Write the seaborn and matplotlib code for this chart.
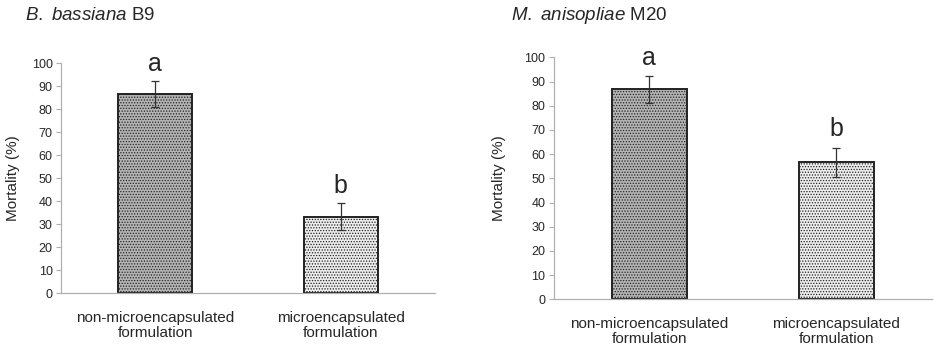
import pandas as pd
import numpy as np
import matplotlib
matplotlib.use('Agg')
import matplotlib.pyplot as plt
import seaborn as sns

# values
categories = ['non-microencapsulated\nformulation', 'microencapsulated\nformulation']
b9_mortality = [86.7, 33.3]
b9_err = [5.7, 5.8]
m20_mortality = [86.7, 56.7]
m20_err = [5.6, 6.0]
letters = ['a', 'b']
titles = [r'$\it{B.}$ $\it{bassiana}$ B9', r'$\it{M.}$ $\it{anisopliae}$ M20']

sns.set_style('white')
plt.rcParams['font.family'] = ['Liberation Sans', 'DejaVu Sans']
plt.rcParams['mathtext.fontset'] = 'custom'
plt.rcParams['mathtext.rm'] = 'Liberation Sans'
plt.rcParams['mathtext.it'] = 'Liberation Sans:italic'
plt.rcParams['hatch.linewidth'] = 0.6

fig = plt.figure(figsize=(9.34, 3.49), dpi=100)
ax1 = fig.add_axes([0.0653, 0.1596, 0.4004, 0.659])
ax2 = fig.add_axes([0.593, 0.1424, 0.4047, 0.6934])

fills = ['#b4b4b4', '#ececec']
hatches = ['......', '......']
spine_col = '#b0b0b0'

panels = [(ax1, b9_mortality, b9_err, titles[0], 0.027, 20),
          (ax2, m20_mortality, m20_err, titles[1], 0.547, 506)]

for ax, vals, errs, title, tx, ylab_x in panels:
    df = pd.DataFrame({'group': categories, 'mortality': vals})
    sns.barplot(data=df, x='group', y='mortality', ax=ax, width=0.4,
                errorbar=None, color='white')
    for patch, fc, h in zip(ax.patches, fills, hatches):
        patch.set_facecolor(fc)
        patch.set_edgecolor('#222222')
        patch.set_linewidth(1.4)
        patch.set_hatch(h)
    ax.errorbar(range(len(vals)), vals, yerr=errs, fmt='none',
                ecolor='#333333', elinewidth=0.9, capsize=3, capthick=0.9)
    for i, (v, e) in enumerate(zip(vals, errs)):
        ax.text(i, v + e + 7.5, letters[i], ha='center', va='center', fontsize=18)
    ax.set_ylim(0, 100)
    ax.set_xlim(-0.51, 1.51)
    ax.set_yticks(np.arange(0, 101, 10))
    ax.set_xlabel('')
    ax.set_ylabel('Mortality (%)', fontsize=11)
    ax.tick_params(axis='y', labelsize=9, length=3.5, width=0.8,
                   color=spine_col, pad=2.5, left=True)
    ax.tick_params(axis='x', labelsize=11, length=0, pad=13)
    for lab in ax.get_xticklabels():
        lab.set_linespacing(1.05)
    sns.despine(ax=ax)
    for s in ['left', 'bottom']:
        ax.spines[s].set_color(spine_col)
        ax.spines[s].set_linewidth(0.9)
    fig.text(tx, 0.955, title, fontsize=13.5, ha='left', va='center')
    # y label placed by pixel position from the reference
    bbox = ax.get_position()
    ax.yaxis.set_label_coords((ylab_x / 934 - bbox.x0) / bbox.width, 0.5)

fig.savefig('out.png', dpi=100)
